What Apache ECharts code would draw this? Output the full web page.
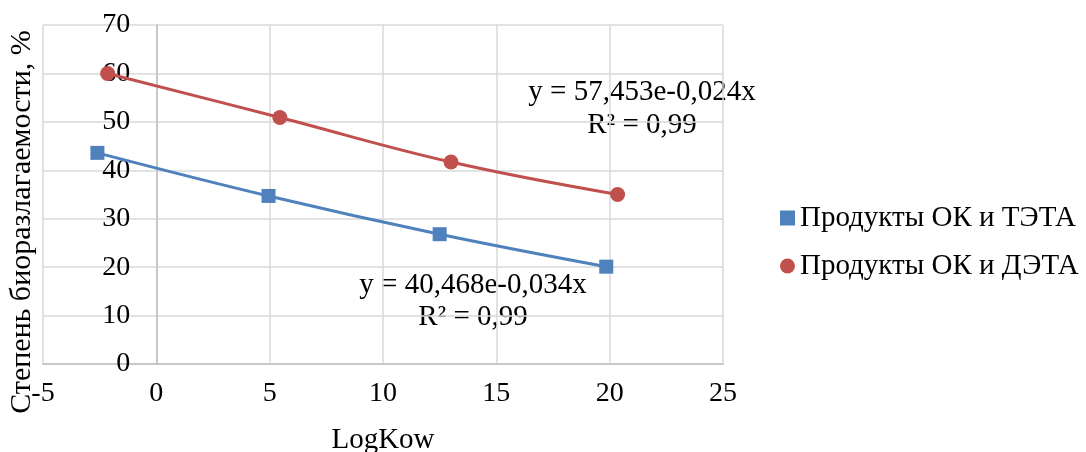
<!DOCTYPE html>
<html>
<head>
<meta charset="utf-8">
<script src="https://cdn.jsdelivr.net/npm/echarts@6/dist/echarts.min.js"></script>
<style>
  html, body { margin: 0; padding: 0; background: #fff; }
  #chart { width: 1086px; height: 452px; }
</style>
</head>
<body>
<div id="chart"></div>
<script>
// data
var tetaX = [-2.6, 4.95, 12.5, 19.85];
var tetaY = [43.6, 34.7, 26.8, 20.1];
var detaX = [-2.15, 5.45, 13.0, 20.35];
var detaY = [60.0, 50.9, 41.7, 35.0];
var seriesNames = ['Продукты ОК и ТЭТА', 'Продукты ОК и ДЭТА'];
var eqTeta = ['y = 40,468e-0,034x', 'R² = 0,99'];
var eqDeta = ['y = 57,453e-0,024x', 'R² = 0,99'];

function pairs(xs, ys) {
    return xs.map(function (x, i) { return [x, ys[i]]; });
}

var font = "'Liberation Serif', 'Times New Roman', serif";
var gridLeft = 43, gridRight = 363, chartW = 1086;
// y axis crosses the x axis at 0 (Excel style), shift it there
var plotW = chartW - gridLeft - gridRight;
var yAxisShift = plotW * (0 - (-5)) / (25 - (-5));

var chart = echarts.init(document.getElementById('chart'));
var option = {
    animation: false,
    backgroundColor: '#fff',
    textStyle: { fontFamily: font },
    grid: { left: gridLeft, right: gridRight, top: 25, bottom: 88, outerBoundsMode: 'none', containLabel: false },
    legend: {
        orient: 'vertical',
        left: 780,
        top: 203,
        padding: 0,
        itemWidth: 15,
        itemHeight: 15,
        itemGap: 18,
        textStyle: { fontFamily: font, fontSize: 29, lineHeight: 30, color: '#000' },
        data: [
            { name: seriesNames[0], icon: 'rect' },
            { name: seriesNames[1], icon: 'circle' }
        ]
    },
    xAxis: {
        type: 'value',
        min: -5, max: 25, interval: 5,
        name: 'LogKow',
        nameLocation: 'middle',
        nameGap: 62,
        nameTextStyle: { fontFamily: font, fontSize: 29, color: '#000' },
        axisLine: { show: true, lineStyle: { color: '#bfbfbf', width: 1.5 } },
        axisTick: { show: false },
        axisLabel: { margin: 16, fontFamily: font, fontSize: 28, color: '#000' },
        splitLine: { show: true, lineStyle: { color: '#d9d9d9', width: 1.5 } }
    },
    yAxis: {
        type: 'value',
        min: 0, max: 70, interval: 10,
        offset: -yAxisShift,
        axisLine: { show: true, onZero: false, lineStyle: { color: '#bfbfbf', width: 1.5 } },
        axisTick: { show: false },
        axisLabel: { margin: 26, fontFamily: font, fontSize: 28, color: '#000' },
        splitLine: { show: true, lineStyle: { color: '#d9d9d9', width: 1.5 } }
    },
    series: [
        {
            name: seriesNames[0],
            type: 'line',
            smooth: 0.4,
            symbol: 'rect',
            symbolSize: 14,
            color: '#4f81bd',
            lineStyle: { width: 3, color: '#4f81bd' },
            itemStyle: { color: '#4f81bd' },
            data: pairs(tetaX, tetaY)
        },
        {
            name: seriesNames[1],
            type: 'line',
            smooth: 0.4,
            symbol: 'circle',
            symbolSize: 15,
            color: '#c0504d',
            lineStyle: { width: 3, color: '#c0504d' },
            itemStyle: { color: '#c0504d' },
            data: pairs(detaX, detaY)
        }
    ],
    graphic: [
        {
            type: 'text', rotation: Math.PI / 2, x: 22, y: 222,
            style: { text: 'Степень биоразлагаемости, %', font: '30px ' + font, fill: '#000',
                     textAlign: 'center', textVerticalAlign: 'middle' }
        },
        {
            type: 'text', x: 642, y: 92,
            style: { text: eqDeta[0], font: '29px ' + font, fill: '#000', textAlign: 'center', textVerticalAlign: 'middle' }
        },
        {
            type: 'text', x: 642, y: 125,
            style: { text: eqDeta[1], font: '29px ' + font, fill: '#000', textAlign: 'center', textVerticalAlign: 'middle' }
        },
        {
            type: 'text', x: 473, y: 285,
            style: { text: eqTeta[0], font: '29px ' + font, fill: '#000', textAlign: 'center', textVerticalAlign: 'middle' }
        },
        {
            type: 'text', x: 473, y: 317,
            style: { text: eqTeta[1], font: '29px ' + font, fill: '#000', textAlign: 'center', textVerticalAlign: 'middle' }
        }
    ]
};
chart.setOption(option);
</script>
</body>
</html>
